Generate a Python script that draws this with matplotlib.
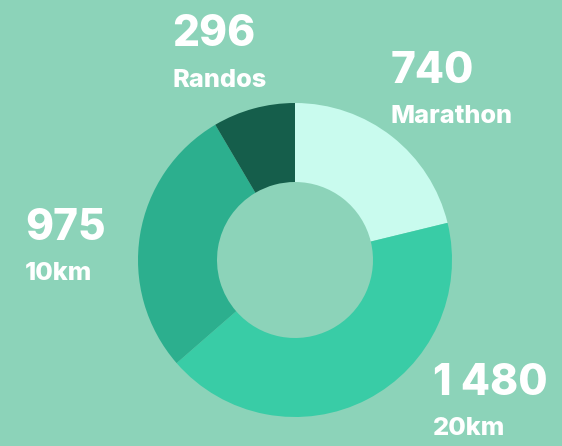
import matplotlib
matplotlib.use("Agg")
import matplotlib.pyplot as plt

# data
labels = ["Marathon", "20km", "10km", "Randos"]
values = [740, 1480, 975, 296]
value_text = ["740", "1 480", "975", "296"]
colors = ["#c9fbee", "#39cca6", "#2caf8e", "#155e4b"]
bg = "#8cd3b9"

W, H = 562, 446
fig = plt.figure(figsize=(W / 100, H / 100), dpi=100, facecolor=bg)
ax = fig.add_axes([0, 0, 1, 1])

ax.pie(values, colors=colors, startangle=90, counterclock=False,
       center=(295, H - 260), radius=157,
       wedgeprops=dict(width=79, linewidth=0), frame=True)
ax.set_xlim(0, W)
ax.set_ylim(0, H)
ax.set_aspect("equal")
ax.axis("off")

# label anchors (px from top-left): value baseline, name baseline
pos = {
    "Marathon": (391, 83, 123),
    "20km": (433, 395, 435),
    "10km": (25, 240, 280),
    "Randos": (172, 46, 87),
}
for lab, vt in zip(labels, value_text):
    x, y1, y2 = pos[lab]
    ax.text(x, H - y1, vt, fontsize=30.5, fontweight="heavy",
            color="white", family="Inter", va="baseline", ha="left")
    ax.text(x, H - y2, lab, fontsize=18.3, fontweight="heavy", color="white",
            family="Inter", va="baseline", ha="left")

fig.savefig("out.png", dpi=100, facecolor=bg)
